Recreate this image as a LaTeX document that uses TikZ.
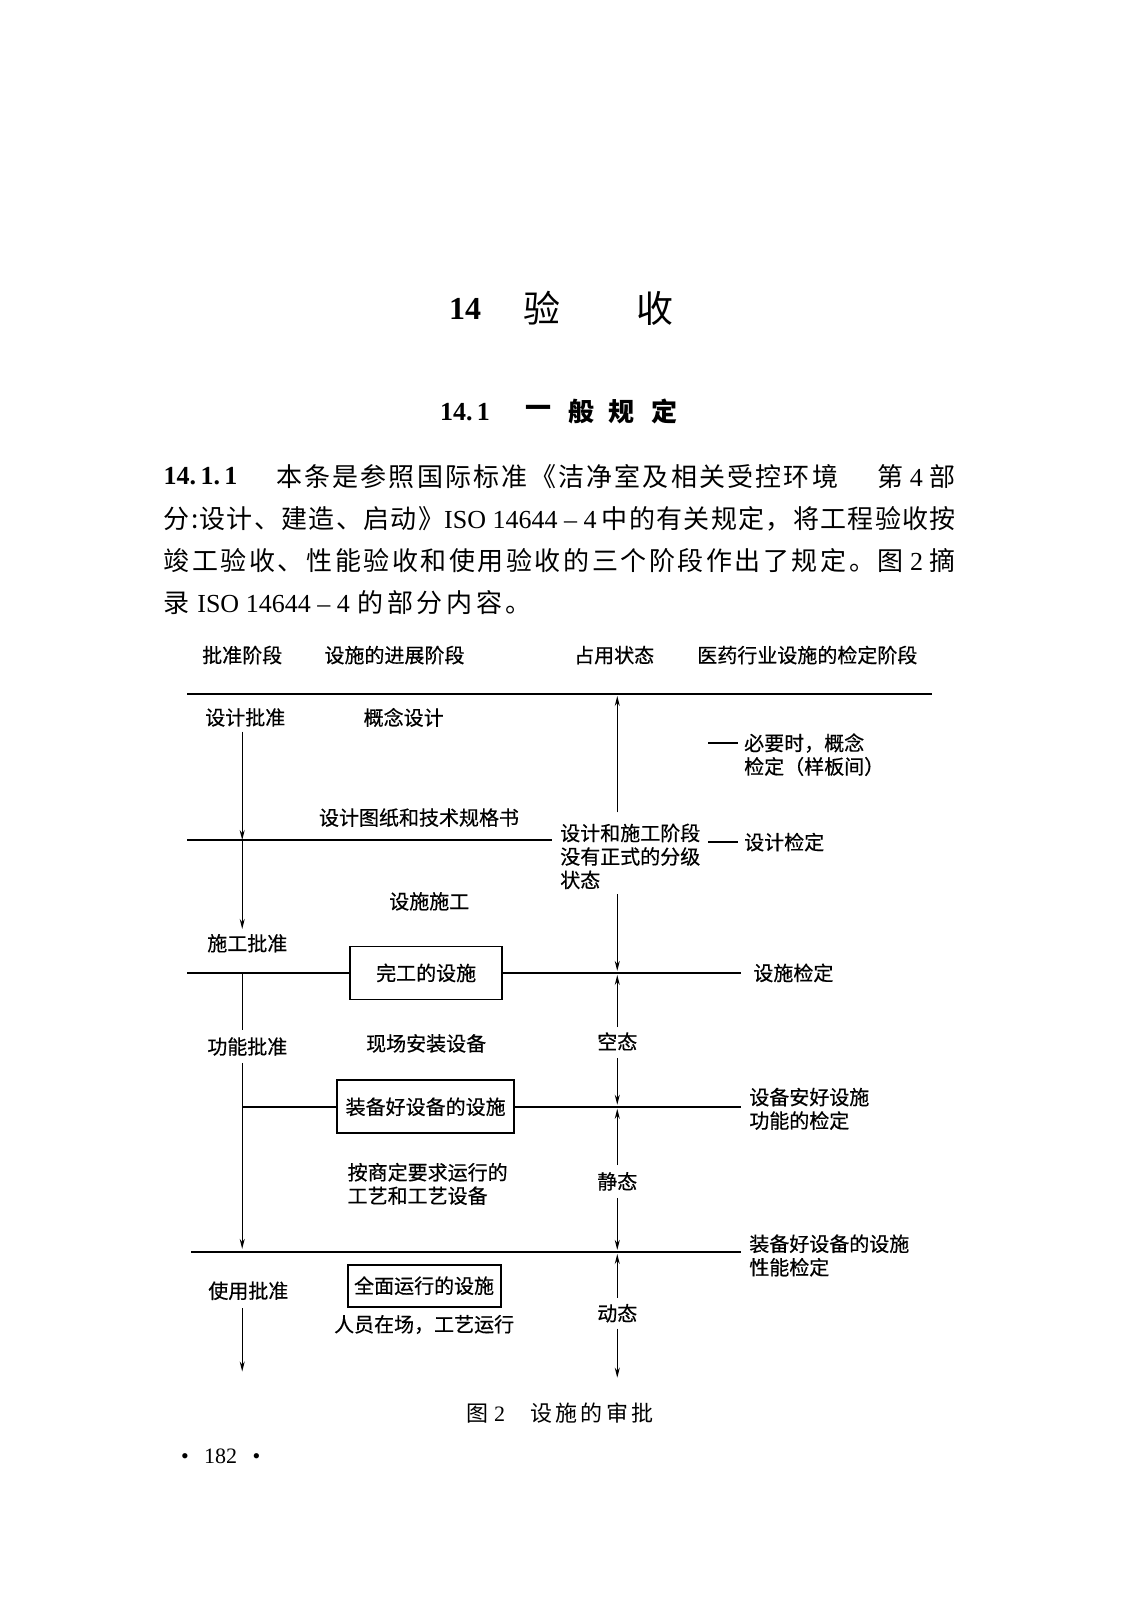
\documentclass[tikz,border=0pt]{standalone}
\usepackage{fontspec}
\setmainfont{Liberation Serif}
\newfontfamily\cjk{Noto Sans CJK SC}
\newfontfamily\cjkd[FakeBold=0.5]{Noto Sans CJK SC}
\usetikzlibrary{arrows.meta}
\ExplSyntaxOn
\NewDocumentCommand\zs{m}{{\cjk
  \bool_set_true:N \l_tmpa_bool
  \tl_map_inline:nn {#1}{\bool_if:NF \l_tmpa_bool {\hskip 0pt plus 1fil}\bool_set_false:N \l_tmpa_bool ##1}}}
\ExplSyntaxOff
\newcommand\zh[1]{{\cjk #1}}
\newcommand\gp{\hskip 4pt plus 1fil\relax}
\begin{document}
\begin{tikzpicture}[x=1.022pt,y=-1.022pt,
  t/.style={font=\cjkd\fontsize{20}{23.5}\selectfont, inner sep=0pt, align=left},
  hl/.style={line width=2.3pt},
  vl/.style={line width=1.2pt},
  ar/.style={vl,-{Stealth[length=10pt,width=5pt]}},
  bx/.style={draw, line width=1.8pt, font=\cjkd\fontsize{20}{23.5}\selectfont, inner sep=0pt},
  body/.style={font=\fontsize{26}{30}\selectfont, inner sep=0pt, anchor=west},
]
\useasboundingbox (0,0) rectangle (1117.4,1565.6);

% title
\node[font=\bfseries\fontsize{32}{36}\selectfont, inner sep=0pt] (t14) at (455,302) {14};
\node[font=\cjk\fontsize{37}{40}\selectfont, inner sep=0pt] (tyan) at (530,302) {验};
\node[font=\cjk\fontsize{37}{40}\selectfont, inner sep=0pt] (tshou) at (641,302) {收};

% section heading
\node[font=\bfseries\fontsize{26}{30}\selectfont, inner sep=0pt] (s141) at (455,403) {14.\,1};
\node[font=\cjk\bfseries\fontsize{26}{30}\selectfont, inner sep=0pt] (sh1) at (527,403) {一};
\node[font=\cjk\bfseries\fontsize{26}{30}\selectfont, inner sep=0pt] (sh2) at (569,403) {般};
\node[font=\cjk\bfseries\fontsize{26}{30}\selectfont, inner sep=0pt] (sh3) at (608,403) {规};
\node[font=\cjk\bfseries\fontsize{26}{30}\selectfont, inner sep=0pt] (sh4) at (650,403) {定};

% paragraph
\node[body, font=\bfseries\fontsize{26}{30}\selectfont] (p1a) at (160,466) {14.\,1.\,1};
\node[body] (p1b) at (270,466) {\makebox[562pt][s]{\zs{本条是参照国际标准《洁净室及相关受控环境}}};
\node[body, anchor=east] (p1c) at (935,466) {\zh{第} 4 \zh{部}};
\node[body] (p2) at (160,508) {\makebox[792pt][s]{\zs{分:设计、建造、启动》}ISO 14644 -- 4\gp\zs{中的有关规定，将工程验收按}}};
\node[body] (p3) at (160,549) {\makebox[792pt][s]{\zs{竣工验收、性能验收和使用验收的三个阶段作出了规定。图}\gp 2\gp\zh{摘}}};
\node[body] (p4) at (160,590) {\makebox[368pt][s]{\zh{录}\gp ISO 14644 -- 4\gp\zs{的部分内容。}}};

% header row
\node[t] (hd1) at (237,641) {批准阶段};
\node[t] (hd2) at (386,641) {设施的进展阶段};
\node[t] (hd3) at (601,641) {占用状态};
\node[t] (hd4) at (790,641) {医药行业设施的检定阶段};

% top line
\coordinate (h0a) at (183,679);
\coordinate (h0b) at (912,679);
\draw[hl] (h0a) -- (h0b);

% left column
\node[t] (a1) at (240,702) {设计批准};
\node[t] (a2) at (242,923) {施工批准};
\node[t] (a3) at (242,1024) {功能批准};
\node[t] (a4) at (243,1263) {使用批准};
\coordinate (l1) at (237,716);
\coordinate (l2) at (237,822);
\coordinate (l3) at (237,909);
\coordinate (l4) at (237,952);
\coordinate (l5) at (237,1008);
\coordinate (l6) at (237,1040);
\coordinate (l7) at (237,1222);
\coordinate (l8) at (237,1280);
\coordinate (l9) at (237,1342);
\draw[ar] (l1) -- (l2);
\draw[ar] (l2) -- (l3);
\draw[vl] (l4) -- (l5);
\draw[ar] (l6) -- (l7);
\draw[ar] (l8) -- (l9);

% middle column
\node[t] (m1) at (395,702) {概念设计};
\node[t] (m2) at (410,800) {设计图纸和技术规格书};
\node[t] (m3) at (420,882) {设施施工};
\node[bx, minimum width=152pt, minimum height=53pt] (b1) at (417,952) {完工的设施};
\node[t] (m4) at (417,1021) {现场安装设备};
\node[bx, minimum width=177pt, minimum height=53pt] (b2) at (416.5,1083) {装备好设备的设施};
\node[t, anchor=west] (m5) at (340,1158.5) {按商定要求运行的\\工艺和工艺设备};
\node[bx, minimum width=153pt, minimum height=42pt] (b3) at (415,1258) {全面运行的设施};
\node[t] (m6) at (415,1296) {人员在场，工艺运行};

% state column
\node[t, anchor=west] (st) at (548,838) {设计和施工阶段\\没有正式的分级\\状态};
\node[t] (s1) at (604,1019) {空态};
\node[t] (s2) at (604,1156) {静态};
\node[t] (s3) at (604,1285) {动态};
\coordinate (c0) at (604,681);
\coordinate (c1) at (604,795);
\coordinate (c2) at (604,875);
\coordinate (c3) at (604,950);
\coordinate (c4) at (604,1005);
\coordinate (c5) at (604,954);
\coordinate (c6) at (604,1035);
\coordinate (c7) at (604,1081);
\coordinate (c8) at (604,1140);
\coordinate (c9) at (604,1085);
\coordinate (c10) at (604,1172);
\coordinate (c11) at (604,1223);
\coordinate (c12) at (604,1270);
\coordinate (c13) at (604,1227);
\coordinate (c14) at (604,1300);
\coordinate (c15) at (604,1348);
\draw[ar] (c1) -- (c0);
\draw[ar] (c2) -- (c3);
\draw[ar] (c4) -- (c5);
\draw[ar] (c6) -- (c7);
\draw[ar] (c8) -- (c9);
\draw[ar] (c10) -- (c11);
\draw[ar] (c12) -- (c13);
\draw[ar] (c14) -- (c15);

% horizontal stage lines
\coordinate (h1a) at (183,822);
\coordinate (h1b) at (540,822);
\draw[hl] (h1a) -- (h1b);
\coordinate (h2a) at (183,952);
\coordinate (h2b) at (725,952);
\draw[hl] (h2a) -- (b1.west);
\draw[hl] (b1.east) -- (h2b);
\coordinate (h3b) at (725,1083);
\draw[hl] (l4 |- b2.west) -- (b2.west);
\draw[hl] (b2.east) -- (h3b);
\coordinate (h4a) at (187,1225);
\coordinate (h4b) at (725,1225);
\draw[hl] (h4a) -- (h4b);

% right column
\coordinate (d1a) at (693,727);
\coordinate (d1b) at (722,727);
\draw[hl] (d1a) -- (d1b);
\node[t, anchor=west] (r1) at (728,738.5) {必要时，概念\\检定（样板间）};
\coordinate (d2a) at (693,824);
\coordinate (d2b) at (722,824);
\draw[hl] (d2a) -- (d2b);
\node[t, anchor=west] (r2) at (728,824) {设计检定};
\node[t, anchor=west] (r3) at (737,952) {设施检定};
\node[t, anchor=west] (r4) at (733,1085) {设备安好设施\\功能的检定};
\node[t, anchor=west] (r5) at (733,1228.5) {装备好设备的设施\\性能检定};

% caption and page number
\node[font=\fontsize{22}{26}\selectfont, inner sep=0pt] (cap) at (548,1383) {\makebox[187pt][s]{\zh{图}\ 2\hskip 22pt plus 1fil\zs{设施的审批}}};
\node[font=\fontsize{22}{26}\selectfont, inner sep=0pt] (pg) at (216,1425) {\makebox[79pt][s]{•\hfil 182\hfil •}};
\end{tikzpicture}
\end{document}
